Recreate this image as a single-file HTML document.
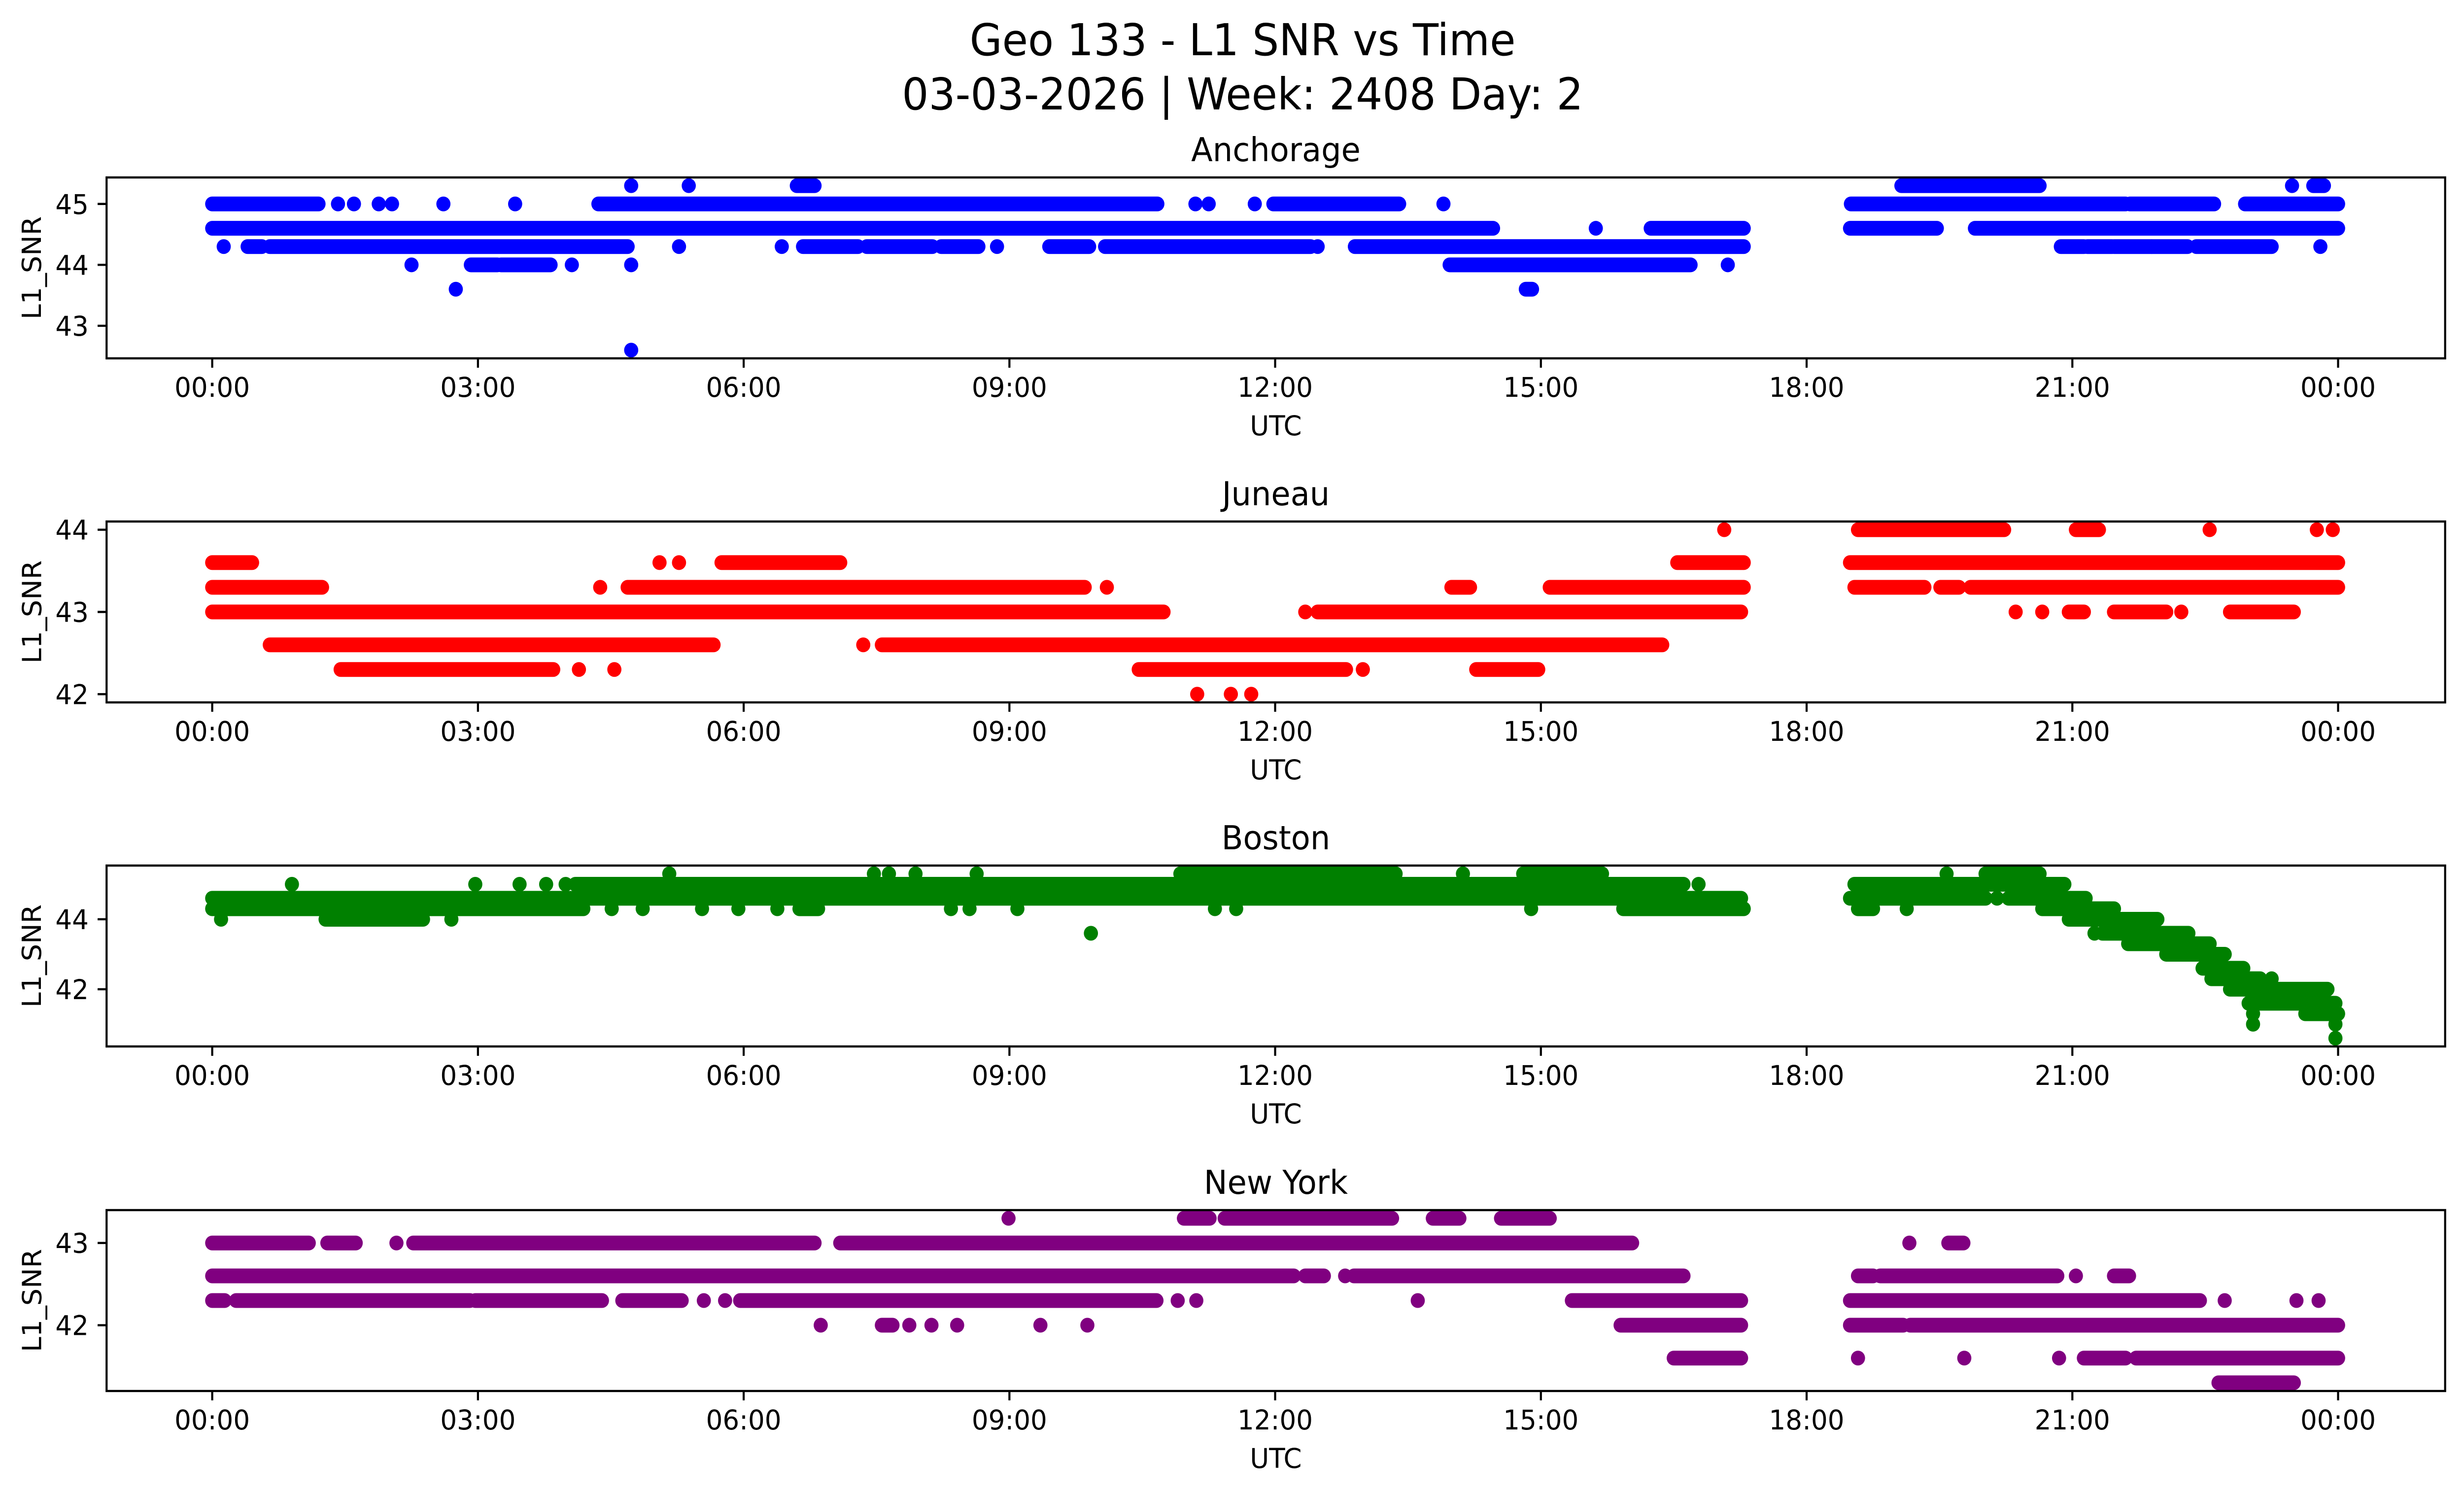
<!DOCTYPE html>
<html><head><meta charset="utf-8">
<style>
html,body{margin:0;padding:0;background:#fff;overflow:hidden;width:100%;height:100%;}
svg{display:block;font-family:"DejaVu Sans","Liberation Sans",sans-serif;width:100vw;height:100vh;}
</style></head>
<body>
<svg id="fig" xmlns="http://www.w3.org/2000/svg" viewBox="0 0 5225 3033" preserveAspectRatio="none">
<rect x="0" y="0" width="5225" height="3033" fill="#fff"/>
<text x="2635" y="112" font-size="89" text-anchor="middle">Geo 133 - L1 SNR vs Time</text>
<text x="2635" y="222" font-size="89" text-anchor="middle">03-03-2026 | Week: 2408 Day: 2</text>
</svg>
<script>
// ---- data: each run = [SNR level, start hour, end hour] ----
const stationNames = ["Anchorage","Juneau","Boston","New York"];
const stationColors = ["#0000ff","#ff0000","#008000","#800080"];
const xTickLabels = ["00:00","03:00","06:00","09:00","12:00","15:00","18:00","21:00","00:00"];
const xTickHours = [0,3,6,9,12,15,18,21,24];
const yLimits = [[42.465,45.435],[41.9,44.1],[40.365,45.535],[41.2,43.4]];
const yTicks = [[43,44,45],[42,43,44],[42,44],[42,43]];

const anchorageRuns = [
 [45.3,4.73,4.73],[45.3,5.38,5.38],[45.3,6.6,6.8],[45.3,19.07,20.63],[45.3,23.48,23.48],[45.3,23.72,23.84],
 [45.0,0,1.2],[45.0,1.42,1.42],[45.0,1.6,1.6],[45.0,1.88,1.88],[45.0,2.03,2.03],[45.0,2.61,2.61],[45.0,3.42,3.42],
 [45.0,4.36,10.67],[45.0,11.1,11.1],[45.0,11.25,11.25],[45.0,11.77,11.77],[45.0,11.98,13.4],[45.0,13.9,13.9],
 [45.0,18.5,21.6],[45.0,21.65,22.6],[45.0,22.95,24],
 [44.6,0,14.46],[44.6,15.62,15.62],[44.6,16.24,17.29],[44.6,18.49,19.47],[44.6,19.9,24],
 [44.3,0.13,0.13],[44.3,0.4,0.56],[44.3,0.65,4.69],[44.3,5.27,5.27],[44.3,6.43,6.43],[44.3,6.67,7.29],[44.3,7.39,8.13],
 [44.3,8.23,8.65],[44.3,8.86,8.86],[44.3,9.45,9.9],[44.3,10.08,12.4],[44.3,12.48,12.48],[44.3,12.9,17.29],
 [44.3,20.87,21.13],[44.3,21.17,21.45],[44.3,21.47,21.89],[44.3,21.9,22.3],[44.3,22.4,23.25],[44.3,23.8,23.8],
 [44.0,2.25,2.25],[44.0,2.92,3.22],[44.0,3.26,3.82],[44.0,4.06,4.06],[44.0,4.73,4.73],[44.0,13.97,16.69],[44.0,17.11,17.11],
 [43.6,2.75,2.75],[43.6,14.83,14.9],[42.6,4.73,4.73]
];
const juneauRuns = [
 [44.0,17.07,17.07],[44.0,18.58,20.23],[44.0,21.04,21.3],[44.0,22.55,22.55],[44.0,23.76,23.76],[44.0,23.94,23.94],
 [43.6,0,0.45],[43.6,5.05,5.05],[43.6,5.27,5.27],[43.6,5.75,7.09],[43.6,16.54,17.29],[43.6,18.49,24],
 [43.3,0,1.24],[43.3,4.38,4.38],[43.3,4.69,9.85],[43.3,10.1,10.1],[43.3,13.99,14.2],[43.3,15.1,17.29],
 [43.3,18.54,19.33],[43.3,19.51,19.72],[43.3,19.85,24],
 [43.0,0,10.74],[43.0,12.34,12.34],[43.0,12.48,17.26],[43.0,20.36,20.36],[43.0,20.66,20.66],[43.0,20.96,21.13],
 [43.0,21.47,22.06],[43.0,22.23,22.23],[43.0,22.78,23.5],
 [42.6,0.65,5.66],[42.6,7.35,7.35],[42.6,7.56,16.37],
 [42.3,1.45,3.85],[42.3,4.14,4.14],[42.3,4.54,4.54],[42.3,10.46,12.8],[42.3,12.99,12.99],[42.3,14.27,14.97],
 [42.0,11.12,11.12],[42.0,11.5,11.5],[42.0,11.73,11.73]
];
const bostonRuns = [
 [45.3,5.16,5.16],[45.3,7.47,7.47],[45.3,7.64,7.64],[45.3,7.94,7.94],[45.3,8.63,8.63],[45.3,10.93,13.36],
 [45.3,14.12,14.12],[45.3,14.8,15.69],[45.3,19.58,19.58],[45.3,20.02,20.63],
 [45.0,0.9,0.9],[45.0,2.97,2.97],[45.0,3.47,3.47],[45.0,3.77,3.77],[45.0,3.99,3.99],[45.0,4.1,16.61],[45.0,16.78,16.78],[45.0,18.54,20.91],
 [44.6,0,17.26],[44.6,18.49,20.02],[44.6,20.15,20.15],[44.6,20.28,21.15],
 [44.3,0,4.19],[44.3,4.51,4.51],[44.3,4.86,4.86],[44.3,5.53,5.53],[44.3,5.94,5.94],[44.3,6.38,6.38],[44.3,6.63,6.84],
 [44.3,8.34,8.34],[44.3,8.55,8.55],[44.3,9.09,9.09],[44.3,11.32,11.32],[44.3,11.56,11.56],[44.3,14.89,14.89],
 [44.3,15.93,17.29],[44.3,18.58,18.75],[44.3,19.13,19.13],[44.3,20.66,21.47],
 [44.0,0.1,0.1],[44.0,1.28,2.38],[44.0,2.7,2.7],[44.0,20.96,21.96],
 [43.6,9.92,9.92],[43.6,21.25,21.25],[43.6,21.34,22.31],
 [43.3,21.63,22.55],[43.0,22.06,22.72],[42.6,22.47,22.93],[42.3,22.57,23.12],[42.3,23.25,23.25],
 [42.0,22.78,23.88],[41.6,22.99,23.97],[41.3,23.04,23.04],[41.3,23.63,24],[41.0,23.04,23.04],[41.0,23.97,23.97],[40.6,23.97,23.97]
];
const newYorkRuns = [
 [43.3,8.99,8.99],[43.3,10.97,11.26],[43.3,11.43,13.32],[43.3,13.78,14.08],[43.3,14.55,15.1],
 [43.0,0,1.09],[43.0,1.3,1.62],[43.0,2.08,2.08],[43.0,2.27,6.8],[43.0,7.09,16.03],[43.0,19.16,19.16],[43.0,19.6,19.77],
 [42.6,0,12.21],[42.6,12.34,12.55],[42.6,12.79,12.79],[42.6,12.89,16.61],[42.6,18.58,18.75],[42.6,18.83,20.83],
 [42.6,21.04,21.04],[42.6,21.47,21.64],
 [42.3,0,0.14],[42.3,0.27,2.91],[42.3,2.97,4.4],[42.3,4.63,5.3],[42.3,5.55,5.55],[42.3,5.79,5.79],[42.3,5.96,10.66],
 [42.3,10.9,10.9],[42.3,11.11,11.11],[42.3,13.61,13.61],[42.3,15.35,17.26],[42.3,18.49,22.44],[42.3,22.72,22.72],
 [42.3,23.53,23.53],[42.3,23.78,23.78],
 [42.0,6.87,6.87],[42.0,7.56,7.68],[42.0,7.87,7.87],[42.0,8.12,8.12],[42.0,8.41,8.41],[42.0,9.35,9.35],[42.0,9.88,9.88],
 [42.0,15.9,17.26],[42.0,18.49,19.09],[42.0,19.17,24],
 [41.6,16.5,17.26],[41.6,18.58,18.58],[41.6,19.78,19.78],[41.6,20.85,20.85],[41.6,21.13,21.6],[41.6,21.72,24],
 [41.3,22.65,23.5]
];
const allRuns = [anchorageRuns, juneauRuns, bostonRuns, newYorkRuns];

// ---- layout ----
const NS = "http://www.w3.org/2000/svg";
const svg = document.getElementById("fig");
const axLeft = 226, axRight = 5185, axH = 367;
const axTops = [360, 1058, 1756, 2455];
const x0 = 450, x24 = 4958;
const R = 15;
function xScale(h){ return x0 + (x24 - x0) * h / 24; }
function mk(tag, attrs, parent){
  const el = document.createElementNS(NS, tag);
  for (const k in attrs) el.setAttribute(k, attrs[k]);
  (parent || svg).appendChild(el);
  return el;
}
const keys = ["anchorage","juneau","boston","new-york"];
for (let p = 0; p < 4; p++) {
  const top = axTops[p], bot = top + axH;
  const [lo, hi] = yLimits[p];
  const yScale = v => bot - (v - lo) / (hi - lo) * axH;
  const g = mk("g", {});
  
  
  const cp = mk("clipPath", {id: "clip" + p}, g);
  mk("rect", {x: axLeft, y: top, width: axRight - axLeft, height: axH}, cp);
  const marks = mk("g", {"clip-path": "url(#clip" + p + ")", fill: stationColors[p]}, g);
  
  
  allRuns[p].forEach(run => {
    const [v, s, e] = run;
    const xs = xScale(s), xe = xScale(e), yy = yScale(v);
    const m = mk("rect", {x: xs - R, y: yy - R, width: xe - xs + 2 * R, height: 2 * R, rx: R, ry: R}, marks);
    
    
  });
  const fr = mk("rect", {x: axLeft, y: top, width: axRight - axLeft, height: axH, fill: "none", stroke: "#000", "stroke-width": 4.4}, g);
  
  
  xTickHours.forEach((h, i) => {
    const xx = xScale(h);
    mk("line", {x1: xx, x2: xx, y1: bot, y2: bot + 19, stroke: "#000", "stroke-width": 4.4}, g);
    const t = mk("text", {x: xx, y: bot + 78, "font-size": 55.5, "text-anchor": "middle"}, g);
    t.textContent = xTickLabels[i];
    
    
  });
  yTicks[p].forEach(v => {
    const yy = yScale(v);
    mk("line", {x1: axLeft - 19, x2: axLeft, y1: yy, y2: yy, stroke: "#000", "stroke-width": 4.4}, g);
    const t = mk("text", {x: axLeft - 38, y: yy + 20, "font-size": 55.5, "text-anchor": "end"}, g);
    t.textContent = String(v);
    
    
  });
  const xl = mk("text", {x: (axLeft + axRight) / 2, y: bot + 156, "font-size": 55.5, "text-anchor": "middle"}, g);
  xl.textContent = "UTC";
  
  
  const cy = top + axH / 2;
  const yl = mk("text", {x: 67, y: cy, "font-size": 55.5, "text-anchor": "middle", transform: "rotate(-90 67 " + cy + ") translate(0 20)"}, g);
  yl.textContent = "L1_SNR";
  
  
  const tt = mk("text", {x: (axLeft + axRight) / 2, y: top - 33, "font-size": 66.7, "text-anchor": "middle"}, g);
  tt.textContent = stationNames[p];
  
  
}
</script>
</body></html>
